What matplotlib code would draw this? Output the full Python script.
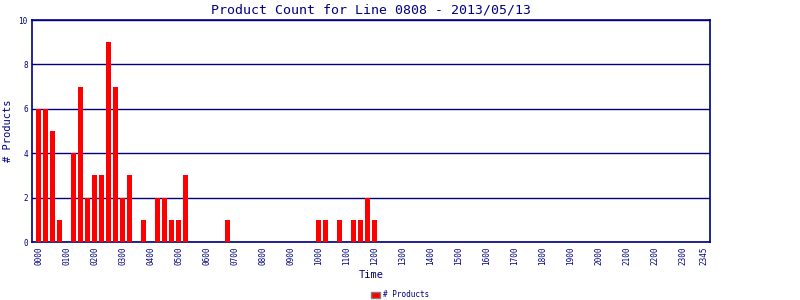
import matplotlib
matplotlib.use("Agg")
import matplotlib.pyplot as plt
from matplotlib.patches import Patch

title = "Product Count for Line 0808 - 2013/05/13"
# 15-minute slots 0000..2345
slot_labels = [f"{h:02d}{m:02d}" for h in range(24) for m in (0, 15, 30, 45)]
counts = [0] * 96
nonzero = {0: 6, 1: 6, 2: 5, 3: 1, 5: 4, 6: 7, 7: 2, 8: 3, 9: 3, 10: 9, 11: 7,
           12: 2, 13: 3, 15: 1, 17: 2, 18: 2, 19: 1, 20: 1, 21: 3, 27: 1,
           40: 1, 41: 1, 43: 1, 45: 1, 46: 1, 47: 2, 48: 1}
for k, v in nonzero.items():
    counts[k] = v
tick_idx = list(range(0, 96, 4)) + [95]
yticks = [0, 2, 4, 6, 8, 10]

navy = "#000080"
mono = ["DejaVu Sans Mono"]

fig = plt.figure(figsize=(8, 3), dpi=100)
ax = fig.add_axes([0.04, 0.1933, 0.8475, 0.74])
x = list(range(96))
ax.bar(x, counts, width=0.84, color="#ff0000", linewidth=0, zorder=3,
       label="# Products")
ax.set_xlim(-0.93, 95.93)
ax.set_ylim(0, 10)
ax.set_yticks(yticks)
ax.set_yticklabels([str(t) for t in yticks], fontsize=5.5, color=navy, family=mono)
ax.set_xticks(tick_idx)
ax.set_xticklabels([slot_labels[i] for i in tick_idx], rotation=90, fontsize=5.5,
                   color=navy, family=mono)
ax.tick_params(length=0, pad=3)
ax.grid(axis="y", color=navy, linewidth=1, zorder=1)
for s in ax.spines.values():
    s.set_color(navy)
    s.set_linewidth(1.2)
ax.set_title(title, fontsize=9.5, color=navy, family=mono, pad=5)
ax.set_xlabel("Time", fontsize=7.5, color=navy, family=mono, labelpad=4)
ax.set_ylabel("# Products", fontsize=7.5, color=navy, family=mono, labelpad=4)

handle = Patch(facecolor="#ff0000", edgecolor="#808080", linewidth=1)
fig.legend([handle], ["# Products"], loc="center", bbox_to_anchor=(0.5, 0.017),
           frameon=False, prop={"family": mono, "size": 5.5}, labelcolor=navy,
           handlelength=1.2, handleheight=0.9, handletextpad=0.3)

fig.savefig("out.png", dpi=100)
